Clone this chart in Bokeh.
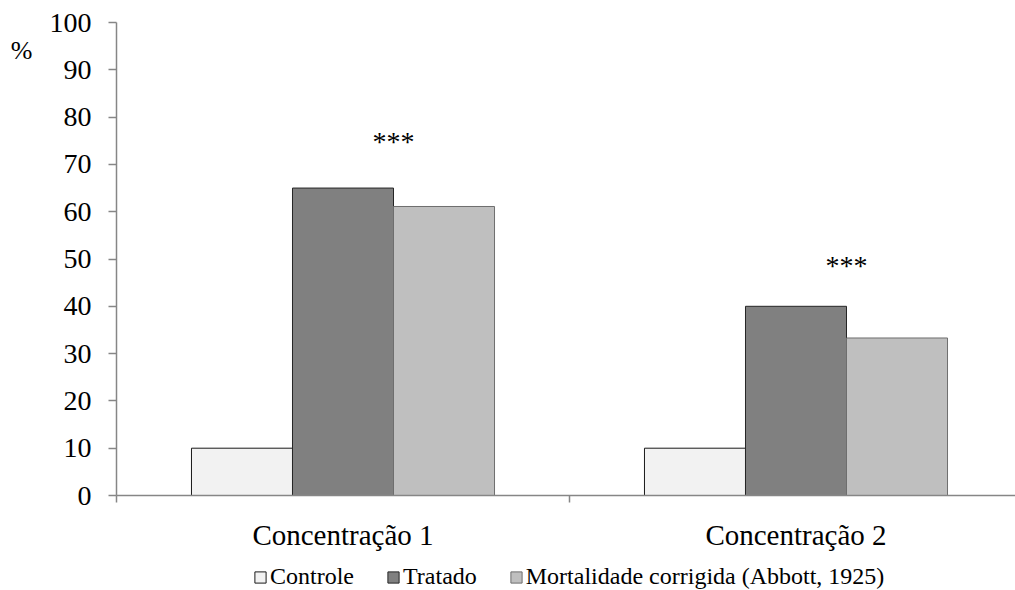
from bokeh.plotting import figure
from bokeh.layouts import column
from bokeh.models import (ColumnDataSource, Range1d, FixedTicker, Legend, LegendItem, LinearAxis)
from bokeh.core.properties import value
from bokeh.embed import file_html
from bokeh.resources import INLINE
import numpy as np

# ---- data ----
categories = ["Concentração 1", "Concentração 2"]
series_names = ["Controle", "Tratado", "Mortalidade corrigida (Abbott, 1925)"]
controle = [10, 10]
tratado = [65, 40]
corrigida = [61.1, 33.3]
significance = ["***", "***"]
significance_y = [74.8, 48.6]
y_ticks = list(range(0, 101, 10))
unit_label = "%"

colors = ["#f2f2f2", "#808080", "#bfbfbf"]
outlines = ["#1a1a1a", "#262626", "#6e6e6e"]
FONT = "Liberation Serif"
AXIS_COLOR = "#868686"

W = 1015
H_MAIN, H_LEG = 556, 34
LEFT, TOP = 116, 22
BOTTOM = H_MAIN - 495
bar_w = 0.223
centers = np.arange(len(categories)) + 0.5

p = figure(width=W, height=H_MAIN, output_backend="svg", toolbar_location=None,
           x_range=Range1d(0, (W - LEFT) / 453.0), y_range=Range1d(0, 100),
           min_border_left=LEFT, min_border_right=0, min_border_top=TOP,
           min_border_bottom=BOTTOM)
p.outline_line_color = None
p.xgrid.visible = False
p.ygrid.visible = False

# legend strip (separate figure under the chart; its frame aligns with the chart's)
lg = figure(width=W, height=H_LEG, output_backend="svg", toolbar_location=None,
            x_axis_location=None, y_axis_location=None,
            x_range=Range1d(-10, -9), y_range=Range1d(0, 1),
            min_border_left=0, min_border_right=0, min_border_top=0, min_border_bottom=0)
lg.outline_line_color = None
lg.xgrid.visible = False
lg.ygrid.visible = False

series_vals = [controle, tratado, corrigida]
leg_renderers = []
for k, vals in enumerate(series_vals):
    offs = (k - 1) * bar_w
    src = ColumnDataSource(dict(x=centers + offs, top=vals))
    style = dict(fill_color=colors[k], line_color=outlines[k], line_width=1)
    p.vbar(x="x", top="top", width=bar_w, bottom=0, source=src, **style)
    # same series in the legend strip (outside its view; only used for legend swatches)
    leg_renderers.append(lg.vbar(x="x", top="top", width=bar_w, bottom=0, source=src, **style))

# significance markers: centred on Tratado / Corrigida boundary
star_src = ColumnDataSource(dict(x=centers + bar_w / 2, y=significance_y, t=significance))
p.text(x="x", y="y", text="t", source=star_src, text_align="center",
       text_baseline="alphabetic", text_font=value(FONT),
       text_font_size="28px", text_color="#000000")

# x axis
xa = p.xaxis[0]
xa.ticker = FixedTicker(ticks=list(centers), minor_ticks=list(range(len(categories) + 1)))
xa.major_label_overrides = {float(c): lab for c, lab in zip(centers, categories)}
xa.major_tick_line_color = None
xa.major_tick_out = 0
xa.major_tick_in = 0
xa.minor_tick_out = 7
xa.minor_tick_in = 0
xa.minor_tick_line_color = AXIS_COLOR
xa.minor_tick_line_width = 1.5
xa.axis_line_color = AXIS_COLOR
xa.axis_line_width = 1.5
xa.major_label_standoff = 16
xa.major_label_text_font = FONT
xa.major_label_text_font_size = "29px"
xa.major_label_text_color = "#000000"

# y axis
ya = p.yaxis[0]
ya.ticker = FixedTicker(ticks=y_ticks)
ya.minor_tick_line_color = None
ya.major_tick_out = 8
ya.major_tick_in = 0
ya.major_tick_line_color = AXIS_COLOR
ya.major_tick_line_width = 1.5
ya.axis_line_color = AXIS_COLOR
ya.axis_line_width = 1.5
ya.major_label_standoff = 17
ya.major_label_text_font = FONT
ya.major_label_text_font_size = "28px"
ya.major_label_text_color = "#000000"

# "%" unit label as an outer, line-less axis
ua = LinearAxis(ticker=FixedTicker(ticks=[94]), major_label_overrides={94: unit_label},
                axis_line_color=None, major_tick_line_color=None, minor_tick_line_color=None,
                major_tick_out=0, major_tick_in=0, major_label_standoff=14,
                major_label_text_font=FONT, major_label_text_font_size="26px",
                major_label_text_color="#000000")
p.add_layout(ua, "left")

legend = Legend(items=[LegendItem(label=n, renderers=[r]) for n, r in zip(series_names, leg_renderers)],
                orientation="horizontal", location=(137, 0),
                label_text_font=FONT, label_text_font_size="24px", label_text_color="#000000",
                glyph_width=14, glyph_height=14, label_standoff=3, spacing=32,
                padding=0, margin=0, border_line_color=None, background_fill_alpha=0)
lg.add_layout(legend, "center")

layout = column(p, lg, spacing=0)
open("out.html", "w").write(file_html(layout, INLINE))
